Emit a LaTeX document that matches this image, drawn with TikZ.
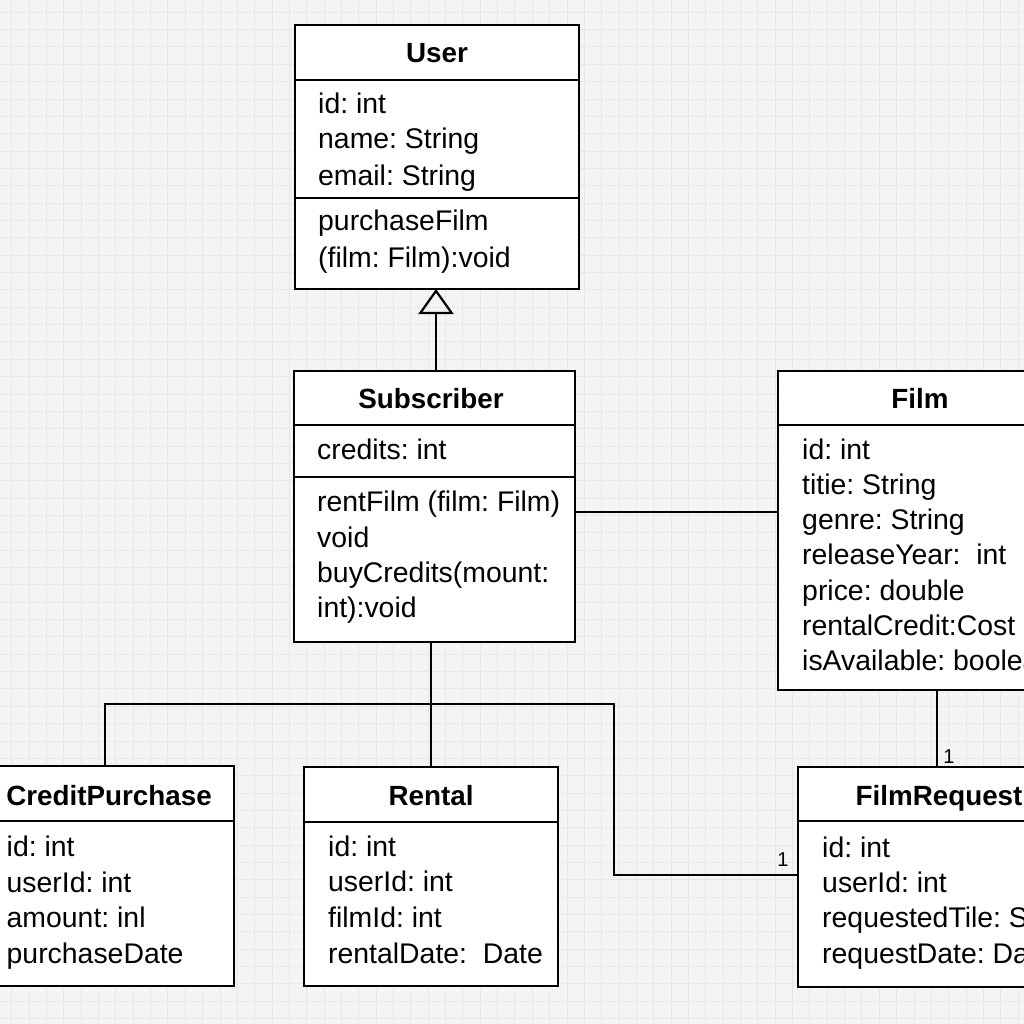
\documentclass[tikz,border=0pt]{standalone}
\usepackage{fontspec}
\setmainfont{Liberation Sans}
\usetikzlibrary{arrows.meta}
\definecolor{bgc}{HTML}{F4F4F4}
\definecolor{gridc}{HTML}{E7E7E7}
\frenchspacing
\begin{document}
\frenchspacing
\begin{tikzpicture}[x=1pt,y=-1pt,
  cls/.style={draw=black, line width=2.6pt, fill=white, inner sep=0pt, outer sep=0pt},
  ttl/.style={anchor=base, font=\fontsize{27.8}{30}\selectfont\bfseries, inner sep=0pt},
  attr/.style={anchor=base west, font=\fontsize{28.4}{30}\selectfont\frenchspacing, inner sep=0pt},
  conn/.style={line width=2.5pt, draw=black},
  sepline/.style={line width=2.5pt, draw=black},
  mult/.style={font=\fontsize{20}{22}\selectfont, inner sep=0pt},
  gridline/.style={draw=gridc, line width=1pt}]
\useasboundingbox (0,0) rectangle (1024,1024);
\clip (0,0) rectangle (1024,1024);
\fill[bgc] (0,0) rectangle (1024,1024);
\foreach \i in {0,...,58} {
  \draw[gridline] ({11.8+\i*17.35},0) -- ++(0,1024);
  \draw[gridline] (0,{12.3+\i*17.35}) -- ++(1024,0);
}

% ---------- class boxes ----------
\node[cls, minimum width=284pt, minimum height=264pt] (user) at (437,157) {};
\node[cls, minimum width=281pt, minimum height=271pt] (sub) at (434.5,506.5) {};
\node[cls, minimum width=284pt, minimum height=319pt] (film) at (920,530.5) {};
\node[cls, minimum width=250pt, minimum height=220pt] (credit) at (109,876) {};
\node[cls, minimum width=254pt, minimum height=219pt] (rental) at (431,876.5) {};
\node[cls, minimum width=278pt, minimum height=220pt] (freq) at (937,877) {};

% dividers
\draw[sepline] (user.west |- 0,80) -- (user.east |- 0,80);
\draw[sepline] (user.west |- 0,198) -- (user.east |- 0,198);
\draw[sepline] (sub.west |- 0,425) -- (sub.east |- 0,425);
\draw[sepline] (sub.west |- 0,477) -- (sub.east |- 0,477);
\draw[sepline] (film.west |- 0,425) -- (film.east |- 0,425);
\draw[sepline] (credit.west |- 0,821) -- (credit.east |- 0,821);
\draw[sepline] (rental.west |- 0,822) -- (rental.east |- 0,822);
\draw[sepline] (freq.west |- 0,821) -- (freq.east |- 0,821);

% ---------- User ----------
\node[ttl] (userT) at (437,63) {User};
\node[attr] (u1) at (318,114) {id: int};
\node[attr] (u2) at (318,149) {name: String};
\node[attr] (u3) at (318,186) {email: String};
\node[attr] (u4) at (318,231) {purchaseFilm};
\node[attr] (u5) at (318,267) {(film: Film):void};

% ---------- Subscriber ----------
\node[ttl] (subT) at (431,408) {Subscriber};
\node[attr] (s1) at (317,459) {credits: int};
\node[attr] (s2) at (317,511) {rentFilm (film: Film)};
\node[attr] (s3) at (317,547) {void};
\node[attr] (s4) at (317,582) {buyCredits(mount:};
\node[attr] (s5) at (317,617) {int):void};

% ---------- Film ----------
\node[ttl] (filmT) at (920,408) {Film};
\node[attr] (f1) at (802,459) {id: int};
\node[attr] (f2) at (802,494) {titie: String};
\node[attr] (f3) at (802,529) {genre: String};
\node[attr] (f4) at (802,564) {releaseYear:\ \ int};
\node[attr] (f5) at (802,600) {price: double};
\node[attr] (f6) at (802,635) {rentalCredit:Cost};
\node[attr] (f7) at (802,670) {isAvailable: boolean};

% ---------- CreditPurchase ----------
\node[ttl] (creditT) at (109,805) {CreditPurchase};
\node[attr] (c1) at (6.5,856) {id: int};
\node[attr] (c2) at (6.5,892) {userId: int};
\node[attr] (c3) at (6.5,927) {amount: inl};
\node[attr] (c4) at (6.5,963) {purchaseDate};

% ---------- Rental ----------
\node[ttl] (rentalT) at (431,805) {Rental};
\node[attr] (r1) at (328,856) {id: int};
\node[attr] (r2) at (328,891) {userId: int};
\node[attr] (r3) at (328,927) {filmId: int};
\node[attr] (r4) at (328,963) {rentalDate:\ \ Date};

% ---------- FilmRequest ----------
\node[ttl] (freqT) at (939,805) {FilmRequest};
\node[attr] (q1) at (822,857) {id: int};
\node[attr] (q2) at (822,892) {userId: int};
\node[attr] (q3) at (822,927) {requestedTile: String};
\node[attr] (q4) at (822,963) {requestDate: Date};

% ---------- connectors ----------
\draw[conn, -{Triangle[open, length=25pt, width=35pt, line width=2.2pt]}] (sub.north -| 436,0) -- (user.south -| 436,0);
\draw[conn] (sub.east |- 0,512) -- (film.west |- 0,512);
\draw[conn] (freq.north) -- (freq.north |- film.south);
\draw[conn] (rental.north) -- (rental.north |- sub.south);
\coordinate (jL) at (105,704);
\coordinate (jR) at (614,704);
\draw[conn] (credit.north -| jL) -- (jL) -- (jR) |- (freq.west |- 0,875);

\node[mult] (m1) at (949,757) {1};
\node[mult] (m2) at (783,860) {1};
\end{tikzpicture}
\end{document}
